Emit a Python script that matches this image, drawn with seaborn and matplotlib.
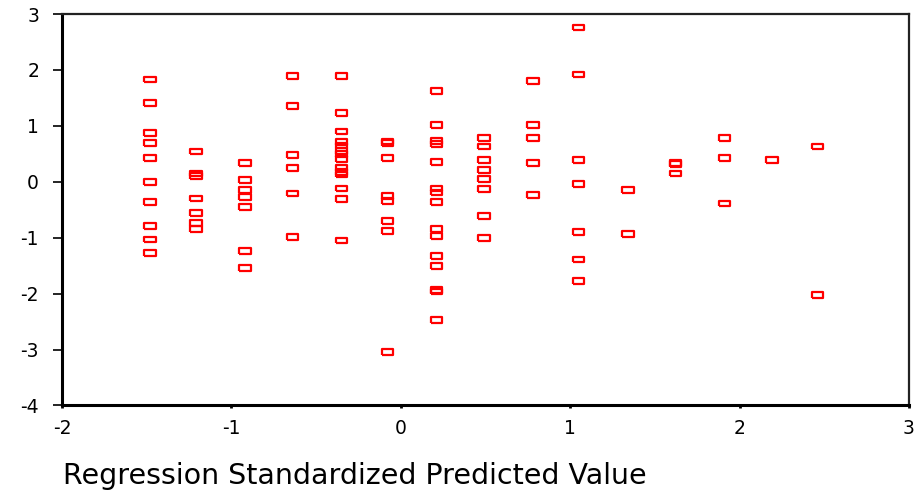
import numpy as np
import pandas as pd
import matplotlib
matplotlib.use("Agg")
import matplotlib.pyplot as plt
import seaborn as sns

# Predicted value (x) of each vertical group of points
pred_levels = [-1.48, -1.21, -0.92, -0.64, -0.35, -0.08, 0.21, 0.49,
               0.78, 1.05, 1.34, 1.62, 1.91, 2.19, 2.46]

# Standardized residuals (y) in each group
resid_g01 = [1.83, 1.41, 0.87, 0.69, 0.42, 0.00, -0.36, -0.79, -1.03, -1.27]
resid_g02 = [0.54, 0.15, 0.10, -0.30, -0.56, -0.74, -0.85]
resid_g03 = [0.33, 0.03, -0.15, -0.27, -0.45, -1.24, -1.54]
resid_g04 = [1.89, 1.35, 0.48, 0.24, -0.21, -0.99]
resid_g05 = [1.89, 1.23, 0.90, 0.71, 0.65, 0.55, 0.50, 0.41, 0.24, 0.18,
             0.13, -0.12, -0.31, -1.05]
resid_g06 = [0.72, 0.69, 0.42, -0.26, -0.35, -0.70, -0.88, -3.04]
resid_g07 = [1.62, 1.02, 0.73, 0.68, 0.36, -0.12, -0.19, -0.36, -0.85,
             -0.97, -1.33, -1.51, -1.94, -1.96, -2.47]
resid_g08 = [0.78, 0.63, 0.39, 0.21, 0.05, -0.13, -0.61, -1.00]
resid_g09 = [1.80, 1.02, 0.78, 0.33, -0.24]
resid_g10 = [2.76, 1.92, 0.39, -0.04, -0.90, -1.39, -1.77]
resid_g11 = [-0.15, -0.94]
resid_g12 = [0.33, 0.32, 0.15]
resid_g13 = [0.78, 0.42, -0.39]
resid_g14 = [0.39]
resid_g15 = [0.63, -2.02]

x_ticks = [-2, -1, 0, 1, 2, 3]
y_ticks = [-4, -3, -2, -1, 0, 1, 2, 3]
x_label = "Regression Standardized Predicted Value"

groups = [resid_g01, resid_g02, resid_g03, resid_g04, resid_g05, resid_g06,
          resid_g07, resid_g08, resid_g09, resid_g10, resid_g11, resid_g12,
          resid_g13, resid_g14, resid_g15]
rows = []
for xv, ys in zip(pred_levels, groups):
    for yv in ys:
        rows.append((xv, yv))
df = pd.DataFrame(rows, columns=["pred", "resid"])

sns.set_theme(style="white")
plt.rcParams['font.family'] = ['DejaVu Sans']
plt.rcParams['axes.unicode_minus'] = False

fig = plt.figure(figsize=(9.17, 4.94), dpi=100)
ax = fig.add_axes([62/917, 1-405.5/494, (909-62)/917, (405.5-14)/494])

rect = [(-1, -0.5), (1, -0.5), (1, 0.5), (-1, 0.5), (-1, -0.5)]
sns.scatterplot(data=df, x="pred", y="resid", ax=ax, marker=rect, s=68,
                facecolor="none", edgecolor="#ff0000", linewidth=1.6,
                legend=False)

ax.set_xlim(-2, 3)
ax.set_ylim(-4, 3)
ax.set_xticks(x_ticks)
ax.set_yticks(y_ticks)
ax.set_xticklabels([str(t) for t in x_ticks])
ax.set_yticklabels([str(t) for t in y_ticks])
ax.tick_params(axis='y', direction='out', length=6.5, width=1.2, pad=10,
               labelsize=13.5, colors='black', left=True)
ax.tick_params(axis='x', direction='out', length=2.5, width=2, pad=7,
               labelsize=13.5, colors='black', bottom=True)
ax.set_ylabel("")
ax.set_xlabel("")
for side in ['left', 'bottom']:
    ax.spines[side].set_linewidth(2.2)
    ax.spines[side].set_color('black')
for side in ['top', 'right']:
    ax.spines[side].set_linewidth(1.6)
    ax.spines[side].set_color('#222222')
ax.grid(False)
ax.set_facecolor('white')

fig.text(63/917, 1-476/494, x_label, fontsize=20.5, ha='left', va='center',
         color='black')

fig.savefig("out.png", dpi=100)
